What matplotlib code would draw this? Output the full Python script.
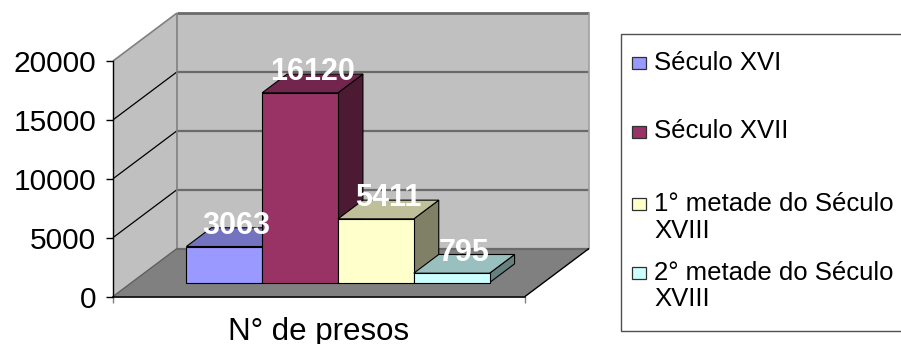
import matplotlib
matplotlib.use('Agg')
import matplotlib.pyplot as plt
from matplotlib.patches import Polygon, Rectangle

plt.rcParams['font.family'] = ['Liberation Sans', 'DejaVu Sans']

# ---- data ----
category = 'N° de presos'
series = ['Século XVI', 'Século XVII', '1° metade do Século\nXVIII', '2° metade do Século\nXVIII']
values = [3063, 16120, 5411, 795]
yticks = [0, 5000, 10000, 15000, 20000]
colors = ['#9999FF', '#993366', '#FFFFCC', '#CCFFFF']

W, H = 901, 344
fig = plt.figure(figsize=(W / 100, H / 100), dpi=100)

# front plane of the 3-D box (pixels)
fx0, fx1, fy0, fytop = 113, 525, 296.5, 61
ax = fig.add_axes([fx0 / W, (H - fy0) / H, (fx1 - fx0) / W, (fy0 - fytop) / H])
ymax = yticks[-1]
ax.set_xlim(0, 1)
ax.set_ylim(0, ymax)
ax.patch.set_visible(False)

# depth offset (in data units) for depth 1
DX = 64 / (fx1 - fx0)
DY = 48 / (fy0 - fytop) * ymax


def P(x, y, d):
    return (x + d * DX, y + d * DY)


def poly(pts, fc, ec='none', lw=0.8, z=1):
    ax.add_patch(Polygon(pts, closed=True, facecolor=fc, edgecolor=ec, lw=lw,
                         clip_on=False, zorder=z, joinstyle='miter'))


def line(p, q, color, lw=1.0, z=1.5):
    ax.plot([p[0], q[0]], [p[1], q[1]], color=color, lw=lw, clip_on=False,
            zorder=z, solid_capstyle='butt')


wall = '#C0C0C0'
floor = '#808080'
# left wall
poly([P(0, 0, 0), P(0, ymax, 0), P(0, ymax, 1), P(0, 0, 1)], wall)
# back wall
poly([P(0, 0, 1), P(0, ymax, 1), P(1, ymax, 1), P(1, 0, 1)], wall)
# floor
poly([P(0, 0, 0), P(1, 0, 0), P(1, 0, 1), P(0, 0, 1)], floor)

# gridlines
for v in yticks[1:-1]:
    line(P(0, v, 0), P(0, v, 1), 'black', 0.9)
    line(P(0, v, 1), P(1, v, 1), '#6a6a6a', 1.6)
# wall edges
line(P(0, ymax, 0), P(0, ymax, 1), '#808080', 1.2)
line(P(0, ymax, 1), P(1, ymax, 1), '#6a6a6a', 2.0)
line(P(0, 0, 1), P(0, ymax, 1), '#808080', 1.2)
line(P(1, 0, 1), P(1, ymax, 1), '#a0a0a0', 1.2)
line(P(0, 0, 1), P(1, 0, 1), '#6a6a6a', 1.6)
line(P(0, 0, 0), P(0, 0, 1), '#606060', 1.0)
line(P(1, 0, 0), P(1, 0, 1), 'black', 1.0, z=2)

# bars
start, bw = 0.133, 0.184
d0, d1 = 0.29, 0.68


def shade(c, f):
    c = c.lstrip('#')
    r, g, b = (int(c[i:i + 2], 16) for i in (0, 2, 4))
    return (r / 255 * f, g / 255 * f, b / 255 * f)


for i, (v, c) in enumerate(zip(values, colors)):
    xl = start + i * bw
    xr = xl + bw
    # side
    poly([P(xr, 0, d0), P(xr, v, d0), P(xr, v, d1), P(xr, 0, d1)], shade(c, 0.5), 'black', z=3)
    # top
    poly([P(xl, v, d0), P(xr, v, d0), P(xr, v, d1), P(xl, v, d1)], shade(c, 0.75), 'black', z=3)
    # front
    poly([P(xl, 0, d0), P(xr, 0, d0), P(xr, v, d0), P(xl, v, d0)], c, 'black', z=3)

for i, v in enumerate(values):
    xc = start + (i + 0.5) * bw
    ax.annotate(f'{v}', xy=P(xc, v, (d0 + d1) / 2), xytext=(0, 8),
                textcoords='offset points', ha='center', va='center',
                fontsize=22, fontweight='bold', color='white', zorder=5,
                annotation_clip=False)

# axes spines / ticks
for s in ['top', 'right']:
    ax.spines[s].set_visible(False)
ax.spines['left'].set_linewidth(1.0)
ax.spines['bottom'].set_linewidth(1.2)
ax.spines['left'].set_zorder(2)
ax.spines['bottom'].set_zorder(2)
ax.set_yticks(yticks)
ax.set_yticklabels([str(t) for t in yticks])
ax.tick_params(axis='y', length=5, width=1.0, pad=7, labelsize=21.5, direction='out')
ax.set_xticks([0, 1])
ax.set_xticklabels([])
ax.tick_params(axis='x', length=4.5, width=1.0, color='#808080', direction='out')
ax.set_xlabel(category, fontsize=22.5)
ax.xaxis.label.set_va('baseline')
ax.xaxis.set_label_coords(0.5, (fy0 - 340) / (fy0 - fytop))

# legend (manual, Excel style)
fig.add_artist(Rectangle((620.5 / W, (H - 331) / H), (906 - 620.5) / W, (331 - 34) / H,
                         transform=fig.transFigure, facecolor='white',
                         edgecolor='#505050', lw=1.0))
entry_y = [62.5, 131.5, 204, 273]
for lab, c, yc in zip(series, colors, entry_y):
    fig.add_artist(Rectangle((631.5 / W, (H - yc - 6) / H), 14 / W, 12 / H,
                             transform=fig.transFigure, facecolor=c,
                             edgecolor='#303030', lw=0.9))
    for k, ln in enumerate(lab.split('\n')):
        fig.text(654 / W, (H - yc - 26.5 * k) / H, ln, fontsize=18.5,
                 ha='left', va='center')

fig.savefig('out.png', dpi=100)
